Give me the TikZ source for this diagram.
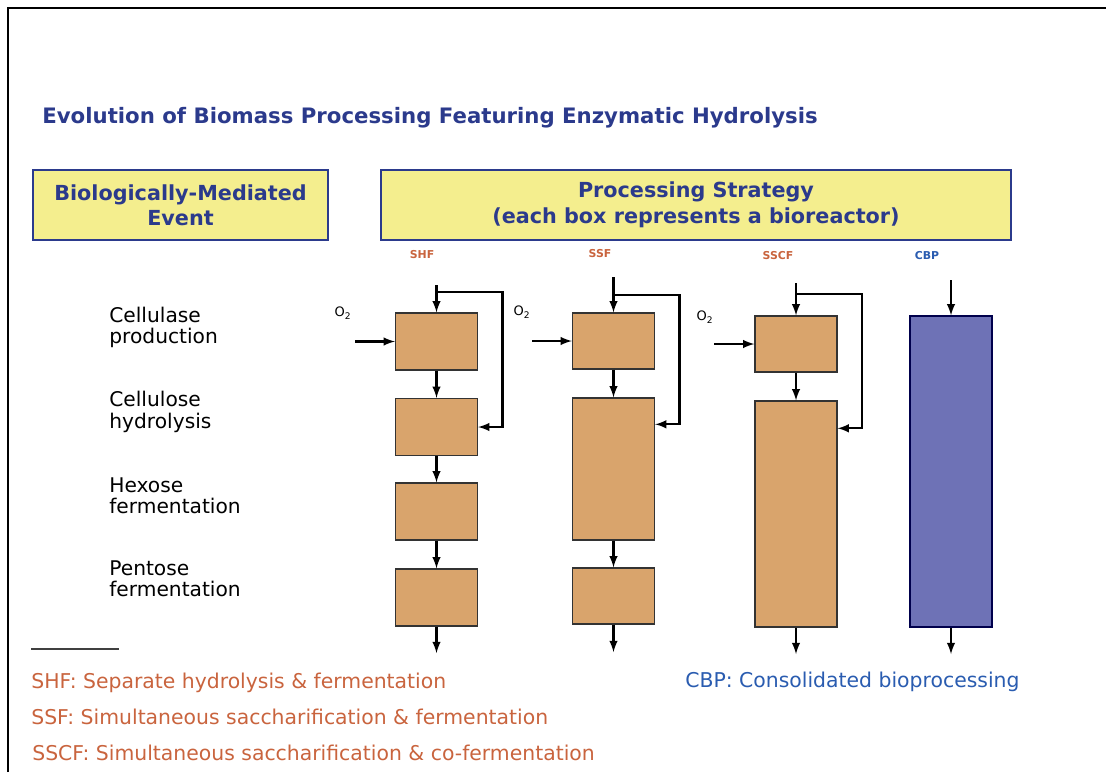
\documentclass[tikz,border=0pt]{standalone}
\usepackage{fontspec}
\setmainfont{DejaVu Sans}
\usepackage{tikz}
\usetikzlibrary{calc}
\usetikzlibrary{arrows}
\definecolor{navy}{HTML}{2B3A8C}
\definecolor{paleyellow}{HTML}{F4EE8E}
\definecolor{tan}{HTML}{D9A46C}
\definecolor{rust}{HTML}{C9643E}
\definecolor{cbpblue}{HTML}{2A5CB0}
\definecolor{cbpfill}{HTML}{6E72B6}

\begin{document}
\begin{tikzpicture}[x=0.02cm,y=-0.02cm,
    header/.style={draw=navy,line width=1.4pt,fill=paleyellow,text=navy,
      font=\fontsize{11.8}{14.5}\selectfont\bfseries,align=center,inner sep=0pt},
    reactor/.style={draw=black!80,line width=0.8pt,fill=tan,minimum width=82*0.02cm,inner sep=0pt},
    flow/.style={-latex,line width=1.2pt},
    event/.style={anchor=west,align=left,inner sep=0pt,font=\fontsize{11.5}{12.2}\selectfont},
    tag/.style={font=\fontsize{6.2}{7}\selectfont\bfseries,text=rust},
    gas/.style={font=\fontsize{7.4}{8}\selectfont},
    legend/.style={anchor=west,inner sep=0pt,font=\fontsize{11.6}{13}\selectfont,text=rust}]
  \useasboundingbox (0,0) rectangle (1106,772);
  % frame
  \draw[line width=1.4pt] (8,772) -- (8,8) -- (1106,8);

  % headings
  \node[anchor=west,inner sep=0pt,text=navy,font=\fontsize{12.1}{14}\selectfont\bfseries] (title) at (42,118)
    {Evolution of Biomass Processing Featuring Enzymatic Hydrolysis};
  \node[header,minimum width=295*0.02cm,minimum height=70*0.02cm] (event) at (180.5,205)
    {Biologically-Mediated\\Event};
  \node[header,minimum width=630*0.02cm,minimum height=70*0.02cm] (strategy) at (696,205)
    {Processing Strategy\\(each box represents a bioreactor)};

  \node[tag] (shf) at (422,255) {SHF};
  \node[tag] (ssf) at (600,254) {SSF};
  \node[tag] (sscf) at (778,256) {SSCF};
  \node[tag,text=cbpblue] (cbp) at (927,256) {CBP};

  % events
  \node[event] (ev1) at (109,327.5) {Cellulase\\production};
  \node[event] (ev2) at (109,412) {Cellulose\\hydrolysis};
  \node[event] (ev3) at (109,496) {Hexose\\fermentation};
  \node[event] (ev4) at (109,578.5) {Pentose\\fermentation};

  % SHF
  \node[reactor,minimum height=57*0.02cm] (shfA) at (436.5,341.5) {};
  \node[reactor,minimum height=57*0.02cm] (shfB) at (436.5,427) {};
  \node[reactor,minimum height=57*0.02cm] (shfC) at (436.5,511.5) {};
  \node[reactor,minimum height=57*0.02cm] (shfD) at (436.5,597.5) {};
  \coordinate (shfIn) at (436.5,285);
  \coordinate (shfTap) at (436.5,292);
  \coordinate (shfOut) at (436.5,653);
  \coordinate (shfGas) at (355,341.5);
  \node[gas] (shfO) at (343,313) {O\textsubscript{2}};
  \draw[flow] (shfIn) -- (shfA.north);
  \draw[flow] (shfTap) -- ++(66,0) |- (shfB.east);
  \draw[flow] (shfGas) -- (shfA.west);
  \draw[flow] (shfA) -- (shfB);
  \draw[flow] (shfB) -- (shfC);
  \draw[flow] (shfC) -- (shfD);
  \draw[flow] (shfD) -- (shfOut);

  % SSF
  \node[reactor,minimum height=56*0.02cm] (ssfA) at (613.5,341) {};
  \node[reactor,minimum height=142*0.02cm] (ssfB) at (613.5,469) {};
  \node[reactor,minimum height=56*0.02cm] (ssfC) at (613.5,596) {};
  \coordinate (ssfIn) at (613.5,277);
  \coordinate (ssfTap) at (613.5,295);
  \coordinate (ssfOut) at (613.5,652);
  \coordinate (ssfGas) at (532,341);
  \node[gas] (ssfO) at (522,312) {O\textsubscript{2}};
  \draw[flow] (ssfIn) -- (ssfA.north);
  \draw[flow] (ssfTap) -- ++(66,0) |- ($(ssfB.north east)+(0,27)$);
  \draw[flow] (ssfGas) -- (ssfA.west);
  \draw[flow] (ssfA) -- (ssfB);
  \draw[flow] (ssfB) -- (ssfC);
  \draw[flow] (ssfC) -- (ssfOut);

  % SSCF
  \node[reactor,minimum height=56*0.02cm] (sscfA) at (796,344) {};
  \node[reactor,minimum height=226*0.02cm] (sscfB) at (796,514) {};
  \coordinate (sscfIn) at (796,283);
  \coordinate (sscfTap) at (796,294);
  \coordinate (sscfOut) at (796,654);
  \coordinate (sscfGas) at (714,344);
  \node[gas] (sscfO) at (705,317) {O\textsubscript{2}};
  \draw[flow] (sscfIn) -- (sscfA.north);
  \draw[flow] (sscfTap) -- ++(66,0) |- ($(sscfB.north east)+(0,28)$);
  \draw[flow] (sscfGas) -- (sscfA.west);
  \draw[flow] (sscfA) -- (sscfB);
  \draw[flow] (sscfB) -- (sscfOut);

  % CBP
  \node[reactor,fill=cbpfill,draw=black!70!blue,minimum height=311*0.02cm] (cbpA) at (951,471.5) {};
  \coordinate (cbpIn) at (951,280);
  \coordinate (cbpOut) at (951,654);
  \draw[flow] (cbpIn) -- (cbpA.north);
  \draw[flow] (cbpA) -- (cbpOut);

  % legend
  \coordinate (ruleL) at (31,649);
  \coordinate (ruleR) at (119,649);
  \draw[line width=0.8pt,black!75] (ruleL) -- (ruleR);
  \node[legend] (lgShf) at (31,682.5) {SHF: Separate hydrolysis \& fermentation};
  \node[legend] (lgSsf) at (31,716.5) {SSF: Simultaneous saccharification \& fermentation};
  \node[legend] (lgSscf) at (32,753) {SSCF: Simultaneous saccharification \& co-fermentation};
  \node[legend,text=cbpblue] (lgCbp) at (685,682) {CBP: Consolidated bioprocessing};
\end{tikzpicture}
\end{document}
